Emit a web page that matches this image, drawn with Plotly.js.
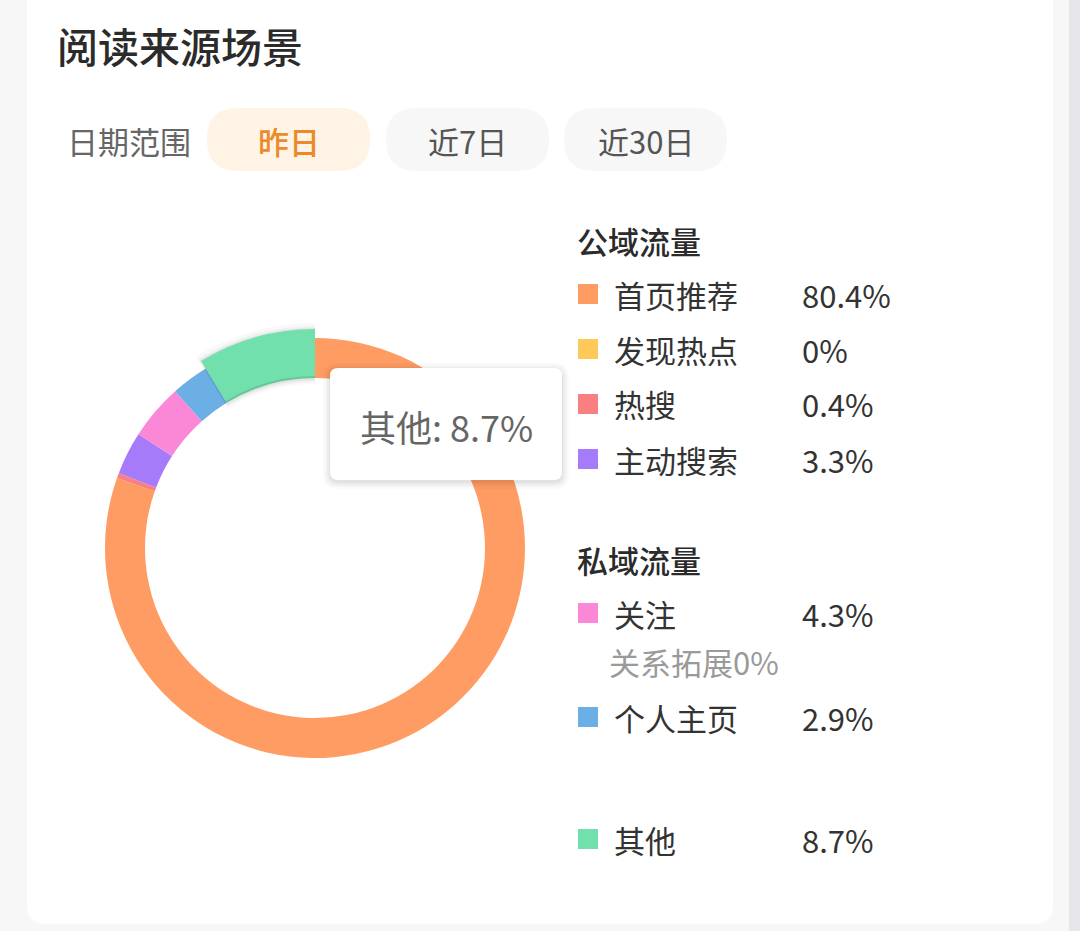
<!DOCTYPE html>
<html>
<head>
<meta charset="utf-8">
<script src="https://cdn.plot.ly/plotly-3.0.1.min.js"></script>
<style>
  html, body { margin: 0; padding: 0; background: #F7F7F7; }
  #chart { width: 1080px; height: 931px; }
</style>
</head>
<body>
<div id="chart"></div>
<script>
// ---- data ----
const categories = ['首页推荐', '发现热点', '热搜', '主动搜索', '关注', '关系拓展', '个人主页', '其他'];
const values = [80.4, 0, 0.4, 3.3, 4.3, 0, 2.9, 8.7];
const sliceColors = ['#FF9C63', '#FFC95A', '#F98080', '#A57BFA', '#FB88D6', '#8CC8F0', '#6BAFE4', '#72E0AC'];
const groupTitles = ['公域流量', '私域流量'];
const publicItems = ['首页推荐', '发现热点', '热搜', '主动搜索'];
const privateItems = ['关注', '个人主页'];
const subNote = '关系拓展';
const otherItem = '其他';
const highlighted = '其他';
const dateLabel = '日期范围';
const dateOptions = ['昨日', '近7日', '近30日'];
const chartTitle = '阅读来源场景';

// ---- helpers (pixel -> paper) ----
const W = 1080, H = 931;
const px = v => v / W;
const py = v => 1 - v / H;
function rrect(x0, y0, x1, y1, r) {
  const X = v => px(v).toFixed(5), Y = v => py(v).toFixed(5);
  return 'M' + X(x0 + r) + ',' + Y(y0) +
    ' L' + X(x1 - r) + ',' + Y(y0) +
    ' Q' + X(x1) + ',' + Y(y0) + ' ' + X(x1) + ',' + Y(y0 + r) +
    ' L' + X(x1) + ',' + Y(y1 - r) +
    ' Q' + X(x1) + ',' + Y(y1) + ' ' + X(x1 - r) + ',' + Y(y1) +
    ' L' + X(x0 + r) + ',' + Y(y1) +
    ' Q' + X(x0) + ',' + Y(y1) + ' ' + X(x0) + ',' + Y(y1 - r) +
    ' L' + X(x0) + ',' + Y(y0 + r) +
    ' Q' + X(x0) + ',' + Y(y0) + ' ' + X(x0 + r) + ',' + Y(y0) + ' Z';
}
function domainFor(cx, cy, r) {
  return { x: [px(cx - r), px(cx + r)], y: [py(cy + r), py(cy - r)] };
}

const FONT = '"Noto Sans CJK SC", "Noto Sans", sans-serif';
const cx = 315, cy = 548;
const hiIdx = categories.indexOf(highlighted);

// ---- traces ----
const mainPie = {
  type: 'pie', values: values, labels: categories, sort: false,
  direction: 'clockwise', rotation: 0, hole: 170 / 210,
  marker: { colors: sliceColors, line: { width: 0 } },
  textinfo: 'none', hoverinfo: 'skip', showlegend: false,
  domain: domainFor(cx, cy, 210)
};
function shadowTrace(r, rin, dy, alpha) {
  return {
    type: 'pie', values: values, labels: categories, sort: false,
    direction: 'clockwise', rotation: 0, hole: rin / r,
    marker: { colors: categories.map((c, i) => i === hiIdx ? 'rgba(0,0,0,' + alpha + ')' : 'rgba(0,0,0,0)'), line: { width: 0 } },
    textinfo: 'none', hoverinfo: 'skip', showlegend: false,
    domain: domainFor(cx, cy + dy, r)
  };
}
const hiPie = {
  type: 'pie', values: values, labels: categories, sort: false,
  direction: 'clockwise', rotation: 0, hole: 172 / 219,
  marker: { colors: categories.map((c, i) => i === hiIdx ? sliceColors[i] : 'rgba(0,0,0,0)'), line: { width: 0 } },
  textinfo: 'none', hoverinfo: 'skip', showlegend: false,
  domain: domainFor(cx, cy, 219)
};

// ---- shapes & annotations ----
const shapes = [];
const annotations = [];

shapes.push({ type: 'path', xref: 'paper', yref: 'paper', layer: 'below',
  path: rrect(27, -40, 1053, 924, 20), fillcolor: '#FFFFFF', line: { width: 0 } });
shapes.push({ type: 'rect', xref: 'paper', yref: 'paper', layer: 'below',
  x0: px(1069), x1: 1, y0: 0, y1: 1, fillcolor: '#E6E6EB', line: { width: 0 } });

annotations.push({ xref: 'paper', yref: 'paper', x: px(55), y: py(45), xanchor: 'left', yanchor: 'middle',
  text: chartTitle, showarrow: false, font: { family: FONT, size: 41, color: '#2B2B2B', weight: 500 } });

annotations.push({ xref: 'paper', yref: 'paper', x: px(65), y: py(140), xanchor: 'left', yanchor: 'middle',
  text: dateLabel, showarrow: false, font: { family: FONT, size: 31, color: '#666666' } });
const pillX = [[207, 370], [386, 549], [564, 727]];
dateOptions.forEach((t, i) => {
  const active = i === 0;
  shapes.push({ type: 'path', xref: 'paper', yref: 'paper', layer: 'below',
    path: rrect(pillX[i][0], 108, pillX[i][1], 171, 31),
    fillcolor: active ? '#FFF3E6' : '#F7F7F7', line: { width: 0 } });
  annotations.push({ xref: 'paper', yref: 'paper', x: px((pillX[i][0] + pillX[i][1]) / 2), y: py(140),
    xanchor: 'center', yanchor: 'middle', text: t, showarrow: false,
    font: { family: FONT, size: 31, color: active ? '#EC8A2A' : '#555555', weight: active ? 500 : 400 } });
});

const labelFont = { family: FONT, size: 31, color: '#333333' };
function header(text, y) {
  annotations.push({ xref: 'paper', yref: 'paper', x: px(575), y: py(y), xanchor: 'left', yanchor: 'middle',
    text: text, showarrow: false, font: { family: FONT, size: 31, color: '#2B2B2B', weight: 500 } });
}
function item(name, y) {
  const i = categories.indexOf(name);
  shapes.push({ type: 'rect', xref: 'paper', yref: 'paper', layer: 'above',
    x0: px(578), x1: px(598), y0: py(y + 10), y1: py(y - 10),
    fillcolor: sliceColors[i], line: { width: 0 } });
  annotations.push({ xref: 'paper', yref: 'paper', x: px(612), y: py(y), xanchor: 'left', yanchor: 'middle',
    text: name, showarrow: false, font: labelFont });
  annotations.push({ xref: 'paper', yref: 'paper', x: px(800), y: py(y), xanchor: 'left', yanchor: 'middle',
    text: values[i] + '%', showarrow: false, font: labelFont });
}
header(groupTitles[0], 240);
const pubY = [294, 349, 404, 459];
publicItems.forEach((n, k) => item(n, pubY[k]));
header(groupTitles[1], 559);
item(privateItems[0], 613);
annotations.push({ xref: 'paper', yref: 'paper', x: px(607), y: py(661), xanchor: 'left', yanchor: 'middle',
  text: subNote + values[categories.indexOf(subNote)] + '%', showarrow: false,
  font: { family: FONT, size: 31, color: '#9A9A9A' } });
item(privateItems[1], 717);
item(otherItem, 839);

// tooltip
[[7, 'rgba(0,0,0,0.02)'], [5, 'rgba(0,0,0,0.025)'], [3, 'rgba(0,0,0,0.03)'], [1, 'rgba(0,0,0,0.04)']].forEach(([s, c]) => {
  shapes.push({ type: 'path', xref: 'paper', yref: 'paper', layer: 'above',
    path: rrect(330 - s, 368 - s + 2, 562 + s, 480 + s + 2, 8 + s), fillcolor: c, line: { width: 0 } });
});
shapes.push({ type: 'path', xref: 'paper', yref: 'paper', layer: 'above',
  path: rrect(330, 368, 562, 480, 8), fillcolor: '#FFFFFF', line: { width: 0 } });
annotations.push({ xref: 'paper', yref: 'paper', x: px(446), y: py(426), xanchor: 'center', yanchor: 'middle',
  text: highlighted + ': ' + values[hiIdx] + '%', showarrow: false,
  font: { family: FONT, size: 36, color: '#666666' } });

const layout = {
  width: W, height: H,
  margin: { l: 0, r: 0, t: 0, b: 0 },
  paper_bgcolor: '#F7F7F7', plot_bgcolor: 'rgba(0,0,0,0)',
  showlegend: false,
  shapes: shapes, annotations: annotations,
  font: { family: FONT }
};

const traces = [mainPie,
  shadowTrace(229, 168, 4, 0.025),
  shadowTrace(225, 169, 3, 0.035),
  shadowTrace(222, 170, 2, 0.05),
  hiPie];
Plotly.newPlot('chart', traces, layout, { displayModeBar: false, staticPlot: true });
</script>
</body>
</html>
